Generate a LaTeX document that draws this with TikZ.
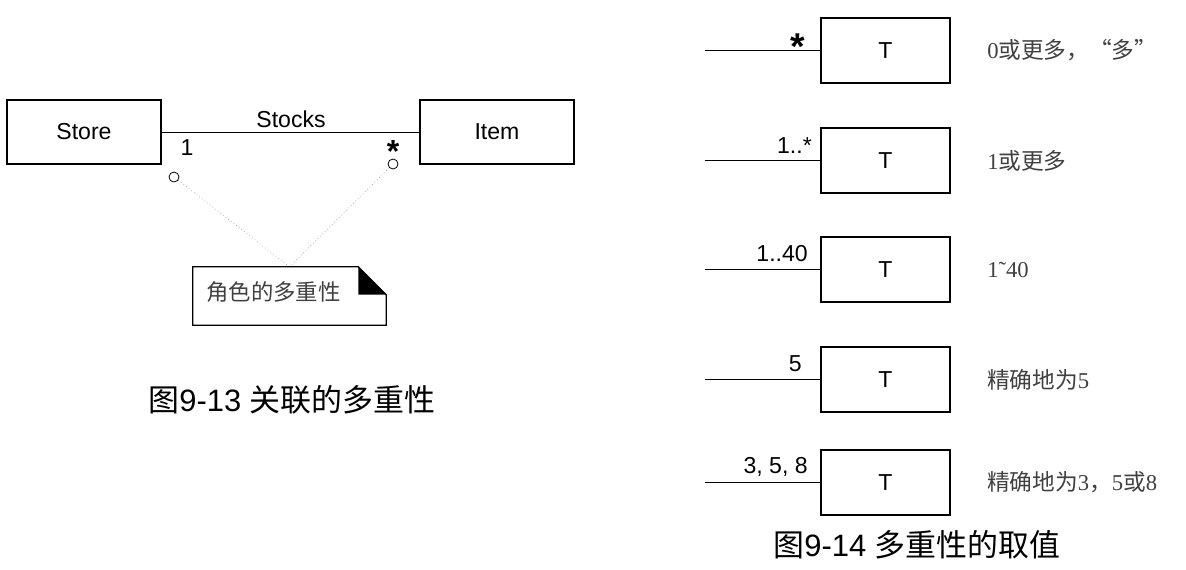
\documentclass[tikz,border=0pt]{standalone}
\usepackage{fontspec}
\setmainfont{Liberation Sans}
\newfontfamily\cjk{Noto Sans CJK SC}
\newfontfamily\serifnum{Liberation Serif}
\begin{document}
\begin{tikzpicture}[x=0.75pt,y=-0.75pt,
  cls/.style={draw, line width=0.9pt, minimum width=115.5pt, minimum height=48pt, inner sep=0pt, font=\fontsize{17.3}{19}\selectfont},
  tbox/.style={draw, line width=0.9pt, minimum width=96.75pt, minimum height=48.75pt, inner sep=0pt, font=\fontsize{17.3}{19}\selectfont},
  lbl/.style={inner sep=0pt, font=\fontsize{17.3}{19}\selectfont},
  conn/.style={line width=0.75pt},
  ring/.style={circle, draw, line width=0.6pt, minimum size=7.5pt, inner sep=0pt},
  dots/.style={dotted, draw=gray!80, line width=0.5pt},
  notebox/.style={minimum width=144.75pt, minimum height=43.5pt, inner sep=0pt},
  desc/.style={anchor=west, inner sep=0pt, text=black!75, font=\fontsize{17}{19}\selectfont},
  figcaption/.style={inner sep=0pt, font=\fontsize{23.2}{26}\selectfont},
  bigstar/.style={inner sep=0pt, font=\bfseries\fontsize{24}{24}\selectfont}
]
\path[use as bounding box] (0,0) rectangle (1186,569);

% ---- Figure 9-13 ----
\node[cls] (store) at (84,132) {Store};
\node[cls] (item) at (497,132) {Item};
\draw[conn] (store.east) -- (item.west);
\node[lbl, anchor=base] (stocks) at (291,127) {Stocks};
\node[lbl, anchor=base] (one) at (187,155) {1};
\node[bigstar, anchor=base] (many) at (393,162) {*};
\node[ring] (c1) at (174,177) {};
\node[ring] (c2) at (393,164) {};
\node[notebox] (note) at (289.5,296) {};
\draw[dots] (c1) -- (note.north);
\draw[dots] (c2) -- (note.north);
\draw[line width=0.9pt] (note.north west) -- ([xshift=-21pt]note.north east) -- ([yshift=-21pt]note.north east) -- (note.south east) -- (note.south west) -- cycle;
\fill ([xshift=-21pt]note.north east) -- ([xshift=-21pt,yshift=-21pt]note.north east) -- ([yshift=-21pt]note.north east) -- cycle;
\node[inner sep=0pt, anchor=west, text=black!75, font=\cjk\fontsize{16.8}{18}\selectfont] (notetext) at ([xshift=10pt,yshift=3pt]note.west) {角色的多重性};
\node[figcaption] (cap1) at (292,400) {{\cjk 图}9-13 {\cjk 关联的多重性}};

% ---- Figure 9-14 ----
\node[tbox] (t1) at (885.5,50.5) {T};
\node[tbox] (t2) at (885.5,160.5) {T};
\node[tbox] (t3) at (885.5,269.5) {T};
\node[tbox] (t4) at (885.5,379.5) {T};
\node[tbox] (t5) at (885.5,482.5) {T};
\coordinate (e1) at (705,50.5);
\coordinate (e2) at (705,160.5);
\coordinate (e3) at (705,269.5);
\coordinate (e4) at (705,379.5);
\coordinate (e5) at (705,482.5);
\draw[conn] (e1) -- (t1.west);
\draw[conn] (e2) -- (t2.west);
\draw[conn] (e3) -- (t3.west);
\draw[conn] (e4) -- (t4.west);
\draw[conn] (e5) -- (t5.west);
\node[bigstar, font=\bfseries\fontsize{28}{28}\selectfont, anchor=base east] (m1) at (805,59) {*};
\node[lbl, anchor=base east] (m2) at (812,153) {1..*};
\node[lbl, anchor=base east] (m3) at (808,261) {1..40};
\node[lbl, anchor=base east] (m4) at (802,371) {5};
\node[lbl, anchor=base east] (m5) at (808,473) {3, 5, 8};
\node[desc] (d1) at (987,50.5) {{\serifnum 0}{\cjk 或更多，“多”}};
\node[desc] (d2) at (987,160.5) {{\serifnum 1}{\cjk 或更多}};
\node[desc] (d3) at (987,269.5) {{\serifnum 1˜40}};
\node[desc] (d4) at (987,379.5) {{\cjk 精确地为}{\serifnum 5}};
\node[desc] (d5) at (987,482.5) {{\cjk 精确地为}{\serifnum 3}{\cjk ，}{\serifnum 5}{\cjk 或}{\serifnum 8}};
\node[figcaption] (cap2) at (917,545) {{\cjk 图}9-14 {\cjk 多重性的取值}};
\end{tikzpicture}
\end{document}
